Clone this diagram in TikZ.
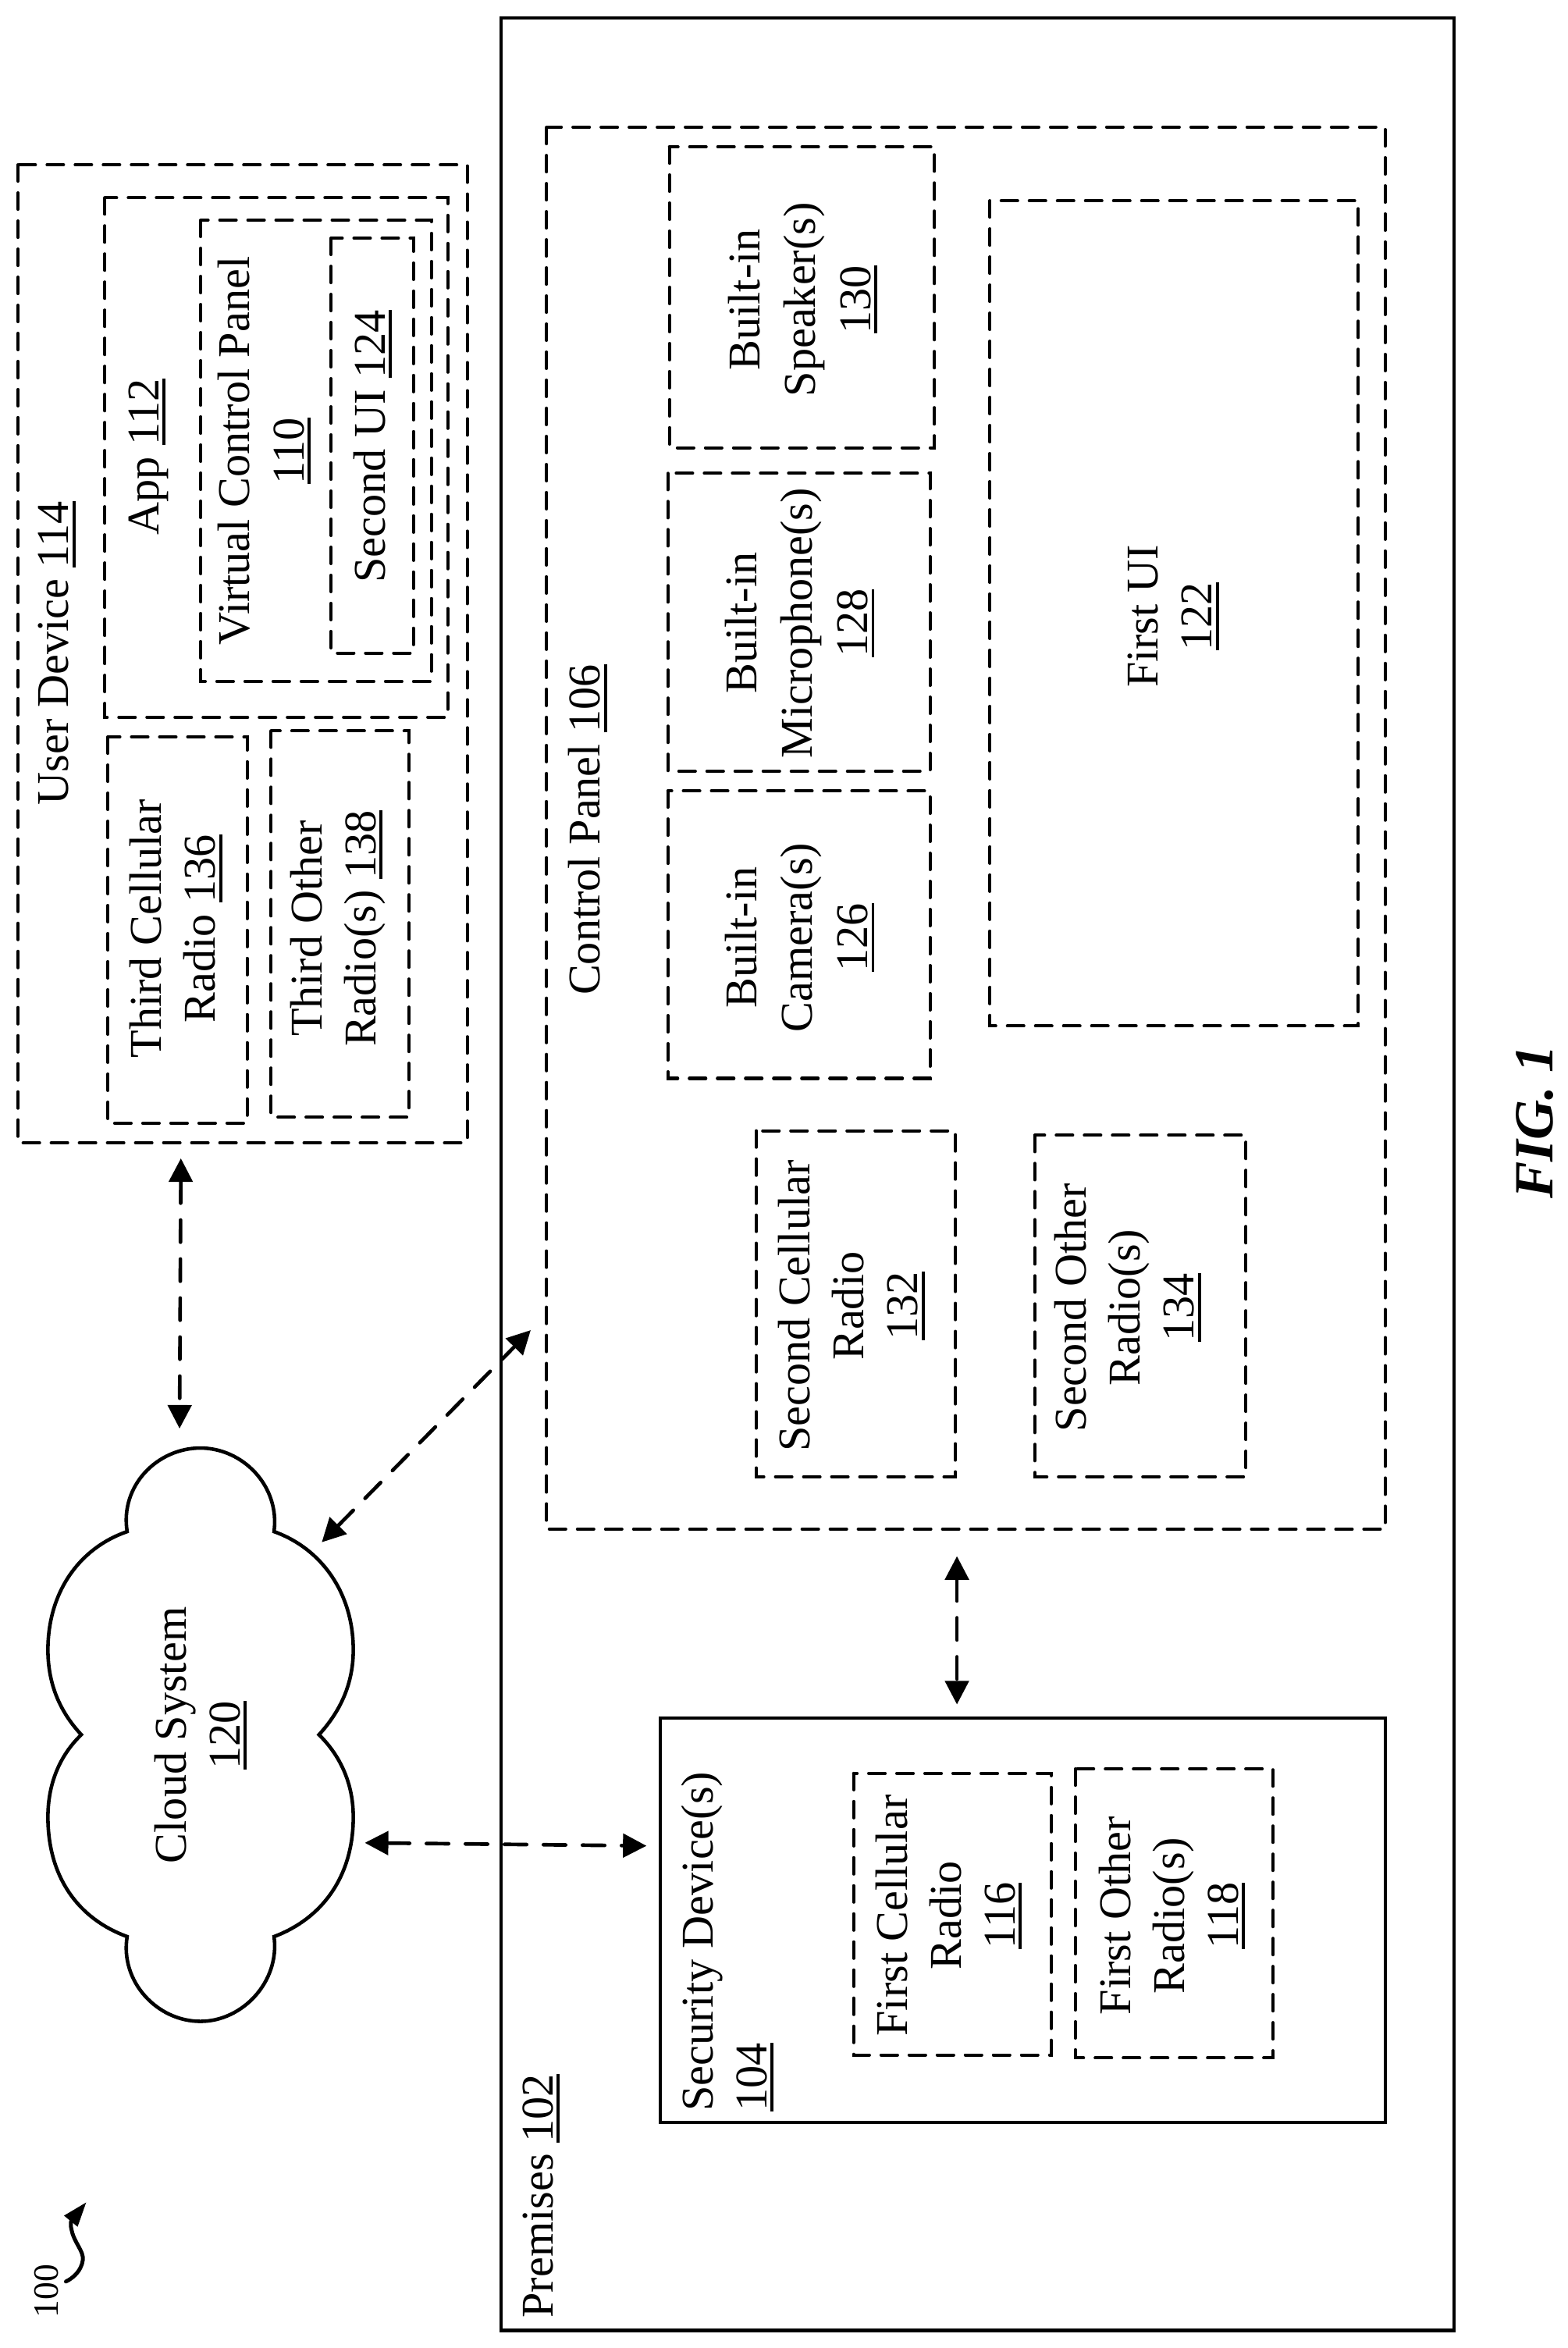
\documentclass[tikz,border=0pt]{standalone}
\usepackage{fontspec}
\setmainfont{Liberation Serif}
\usetikzlibrary{arrows.meta}
\newlength\ulwd
\newcommand\ul[1]{\settowidth\ulwd{#1}\rlap{\rule[-2.5pt]{\ulwd}{1.1pt}}#1}
\tikzset{
  dbox/.style={draw=black,line width=1.15pt,line cap=round,dash pattern=on 6pt off 4.26pt},
  sbox/.style={draw=black,line width=1.2pt},
  lbl/.style={rotate=90,align=center,inner sep=0pt,font=\fontsize{16.6}{19.7}\selectfont},
  lblwide/.style={lbl,font=\fontsize{16.6}{20.3}\selectfont},
  lblstart/.style={rotate=90,align=left,inner sep=0pt,font=\fontsize{16.6}{19.7}\selectfont},
  link/.style={draw=black,line width=1.33pt,line cap=round,dash pattern=on 8.1pt off 6.15pt,{Triangle[length=8.6pt,width=8.6pt]}-{Triangle[length=8.6pt,width=8.6pt]}},
}
\begin{document}
\begin{tikzpicture}[x=0.019225cm,y=-0.019225cm]
\useasboundingbox (0,0) rectangle (1047,1567.7);
% frames
\draw[sbox] (334.4,12) rectangle (971,1556);
\node[lblstart,anchor=south west] (premises) at (374,1548) {Premises \ul{102}};
\draw[dbox] (365,85) rectangle (925,1021);
\coordinate (cptr) at (354.4,888.1);
\node[lbl] (cp) at (392.5,554) {Control Panel \ul{106}};
\draw[dbox] (447,98) rectangle (624,299);
\node[lblwide] (spk) at (536,200) {Built-in\\Speaker(s)\\\ul{130}};
\draw[dbox] (446,316) rectangle (621,515);
\node[lblwide] (mic) at (534,416) {Built-in\\Microphone(s)\\\ul{128}};
\draw[dbox] (446,528) rectangle (621,720);
\node[lblwide] (cam) at (534,626) {Built-in\\Camera(s)\\\ul{126}};
\draw[dbox] (661,134) rectangle (907,685);
\node[lbl] (fui) at (783.5,411.5) {First UI\\\ul{122}};
\draw[dbox] (505,755) rectangle (638,986);
\node[lbl] (scr) at (568.5,872) {Second Cellular\\Radio\\\ul{132}};
\draw[dbox] (691,758) rectangle (832,986);
\node[lbl] (sor) at (753,873) {Second Other\\Radio(s)\\\ul{134}};
\draw[sbox] (441,1147) rectangle (925,1417);
\node[lblstart,anchor=south west] (sec) at (517,1410) {Security Device(s)\\\ul{104}};
\draw[dbox] (570,1184) rectangle (702,1372);
\node[lbl] (fcr) at (633.5,1279) {First Cellular\\Radio\\\ul{116}};
\draw[dbox] (718,1181) rectangle (850,1374);
\node[lbl] (for) at (782.5,1279) {First Other\\Radio(s)\\\ul{118}};
% user device
\draw[dbox] (12,110) rectangle (312,763);
\node[lbl] (ud) at (38,436) {User Device \ul{114}};
\draw[dbox] (70,132) rectangle (299,479);
\node[lbl] (app) at (99,305) {App \ul{112}};
\draw[dbox] (134,147) rectangle (288,455);
\node[lbl] (vcp) at (176.5,301) {Virtual Control Panel\\\ul{110}};
\draw[dbox] (221,159) rectangle (276,436);
\node[lbl] (sui) at (249,298) {Second UI \ul{124}};
\draw[dbox] (72,492) rectangle (165,750);
\node[lbl] (tcr) at (117.5,620) {Third Cellular\\Radio \ul{136}};
\draw[dbox] (181,488) rectangle (273,746);
\node[lbl] (tor) at (225.5,620) {Third Other\\Radio(s) \ul{138}};
% cloud
\draw[sbox,line width=1.3pt] (84.9,1022.6)
  .. controls (80,992) and (105,966.8) .. (133.8,966.8)
  .. controls (162,966.8) and (187,992) .. (183,1022.6)
  .. controls (215,1034) and (235.9,1064) .. (235.9,1101.6)
  .. controls (235.9,1127) and (225,1145) .. (213,1158.2)
  .. controls (225,1170) and (235.9,1188) .. (235.9,1213.2)
  .. controls (235.9,1253) and (215,1281) .. (183,1293)
  .. controls (187,1323) and (162,1349.6) .. (133.8,1349.6)
  .. controls (105,1349.6) and (80,1323) .. (84.9,1293)
  .. controls (52,1281) and (32,1253) .. (32,1213.2)
  .. controls (32,1188) and (42,1170) .. (54.3,1158.2)
  .. controls (42,1145) and (32,1127) .. (32,1101.6)
  .. controls (32,1064) and (52,1034) .. (84.9,1022.6)
  -- cycle;
\node[lbl] (cloud) at (134,1158.5) {Cloud System\\\ul{120}};
% connectors
\coordinate (a1) at (120.8,773.4); \coordinate (a2) at (119.9,953.8);
\draw[link] (a1) -- (a2);
\coordinate (b1) at (214.9,1029.7);
\draw[link] (b1) -- (cptr);
\coordinate (c1) at (243.6,1230.4); \coordinate (c2) at (431.7,1232.4);
\draw[link] (c1) -- (c2);
\coordinate (d1) at (639,1039); \coordinate (d2) at (639,1138);
\draw[link] (d1) -- (d2);
% ref
\node[rotate=90,inner sep=0pt,font=\fontsize{13}{16}\selectfont] (ref) at (30.8,1529.7) {100};
\coordinate (r1) at (44,1523.3); \coordinate (r2) at (57.7,1470.3);
\draw[line width=1.42pt,line cap=round,-{Triangle[length=9pt,width=6pt]}] (r1) .. controls (53,1519) and (57,1510) .. (54.7,1504.5) .. controls (53,1500) and (49,1495) .. (47.8,1488.9) .. controls (47,1486) and (47.3,1483) .. (r2);
\node[rotate=90,inner sep=0pt,font=\fontsize{20.2}{24}\selectfont\bfseries\itshape] (fig) at (1025,749) {FIG. 1};
\end{tikzpicture}
\end{document}
